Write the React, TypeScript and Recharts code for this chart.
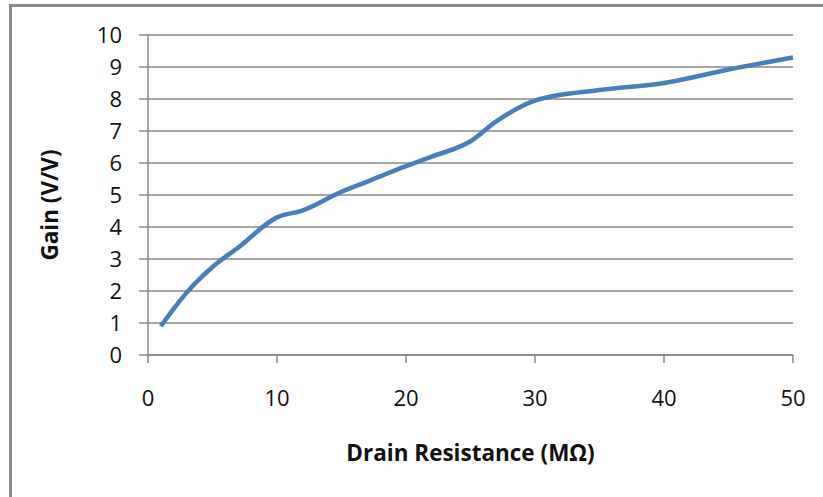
import React from 'react'
import { LineChart, Line, XAxis, YAxis, CartesianGrid, Label } from 'recharts'

// drain resistance (MOhm) and gain (V/V)
const resistance = [1, 2, 3, 5, 7, 10, 12, 15, 17, 20, 22, 25, 27, 30, 35, 40, 45, 50]
const gain = [0.9, 1.45, 1.95, 2.75, 3.36, 4.3, 4.52, 5.1, 5.42, 5.9, 6.2, 6.68, 7.3, 7.95, 8.28, 8.5, 8.92, 9.3]

const xTicks = [0, 10, 20, 30, 40, 50]
const yTicks = [0, 1, 2, 3, 4, 5, 6, 7, 8, 9, 10]

const data = resistance.map((r, i) => ({ r, gain: gain[i] }))

const FONT = '"Open Sans", sans-serif'
const GRID = '#878787'

export default function App() {
  return (
    <div
      style={{
        position: 'absolute',
        left: 0,
        top: 0,
        width: 823,
        height: 497,
        background: '#fff',
        overflow: 'hidden'
      }}
    >
      <div
        style={{
          position: 'absolute',
          left: 9,
          top: 4,
          width: 900,
          height: 600,
          borderLeft: '3px solid #8a8a8a',
          borderTop: '3px solid #8a8a8a'
        }}
      />
      <LineChart
        width={823}
        height={497}
        data={data}
        margin={{ top: 35, right: 30, left: 0, bottom: 0 }}
        style={{ position: 'absolute', left: 0, top: 0 }}
      >
        <CartesianGrid vertical={false} stroke={GRID} strokeWidth={1.5} />
        <XAxis
          dataKey="r"
          type="number"
          domain={[0, 50]}
          ticks={xTicks}
          height={142}
          tickSize={8}
          tickMargin={27}
          axisLine={{ stroke: GRID, strokeWidth: 1.5 }}
          tickLine={{ stroke: GRID, strokeWidth: 1.5 }}
          tick={{ fontSize: 22, fontFamily: FONT, fill: '#111' }}
        >
          <Label
            content={() => (
              <text
                x={470.5}
                y={452}
                textAnchor="middle"
                dominantBaseline="central"
                fontFamily={FONT}
                fontWeight="bold"
                fontSize={22.5}
                fill="#111"
              >
                Drain Resistance (MΩ)
              </text>
            )}
          />
        </XAxis>
        <YAxis
          type="number"
          domain={[0, 10]}
          ticks={yTicks}
          width={148}
          tickSize={9}
          tickMargin={17}
          axisLine={{ stroke: GRID, strokeWidth: 1.5 }}
          tickLine={{ stroke: GRID, strokeWidth: 1.5 }}
          tick={{ fontSize: 22, fontFamily: FONT, fill: '#111' }}
        >
          <Label
            content={() => (
              <text
                x={49}
                y={205}
                transform="rotate(-90, 49, 205)"
                textAnchor="middle"
                dominantBaseline="central"
                fontFamily={FONT}
                fontWeight="bold"
                fontSize={22.5}
                fill="#111"
              >
                Gain (V/V)
              </text>
            )}
          />
        </YAxis>
        <Line
          type="monotone"
          dataKey="gain"
          stroke="#4a7ebb"
          strokeWidth={4.5}
          dot={false}
          isAnimationActive={false}
        />
      </LineChart>
    </div>
  )
}
